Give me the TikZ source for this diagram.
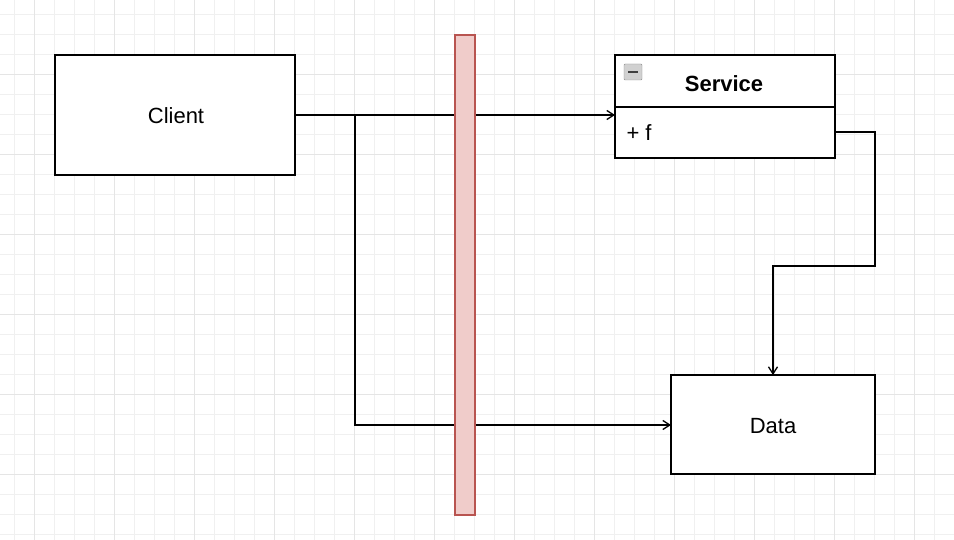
\documentclass[tikz,border=0pt]{standalone}
\usepackage{fontspec}
\setmainfont{Liberation Sans}
\usetikzlibrary{arrows.meta}
\definecolor{barfill}{HTML}{F0CCCA}
\definecolor{barline}{HTML}{B85450}
\begin{document}
\begin{tikzpicture}[x=1pt,y=-1pt,
  box/.style={draw=black,line width=1.3pt,fill=white},
  conn/.style={draw=black,line width=1.3pt,-{Straight Barb[length=7pt,width=9pt]}},
  lbl/.style={font=\fontsize{22}{26}\selectfont}]
\useasboundingbox (0,0) rectangle (954,540);
\fill[white] (0,0) rectangle (954,540);
\foreach \x in {14,34,...,954} \draw[black!6,line width=0.6pt] (\x,0) -- (\x,540);
\foreach \y in {14,34,...,540} \draw[black!6,line width=0.6pt] (0,\y) -- (954,\y);
\foreach \x in {34,114,...,954} \draw[black!10,line width=0.6pt] (\x,0) -- (\x,540);
\foreach \y in {74,154,...,540} \draw[black!10,line width=0.6pt] (0,\y) -- (954,\y);
% nodes
\draw[box] (55,55) rectangle (295,175);
\node[lbl] (client) at (176,116) {Client};
\coordinate (cr) at (295,115);
\draw[box] (615,55) rectangle (835,158);
\draw[line width=1.3pt] (615,107) -- (835,107);
\node[lbl,font=\bfseries\fontsize{22}{26}\selectfont] (service) at (724,84) {Service};
\node[lbl,anchor=west] (f) at (623,133) {+ f};
\coordinate (sl) at (615,115);
\coordinate (sr) at (835,132);
\draw[fill=black!18,draw=black!45,rounded corners=1pt] (624,64) rectangle (642,80);
\draw[line width=2pt,black!75] (628,72) -- (638,72);
\draw[box] (671,375) rectangle (875,474);
\node[lbl] (data) at (773,426) {Data};
\coordinate (dl) at (671,425);
\coordinate (dt) at (773,375);
% connectors
\draw[conn] (cr) -- (sl);
\draw[conn] (355,115) -- (355,425) -- (dl);
\draw[conn] (sr) -- (875,132) -- (875,266) -- (773,266) -- (dt);
% bar
\draw[fill=barfill,draw=barline,line width=1.3pt] (455,35) rectangle (475,515);
\end{tikzpicture}
\end{document}
